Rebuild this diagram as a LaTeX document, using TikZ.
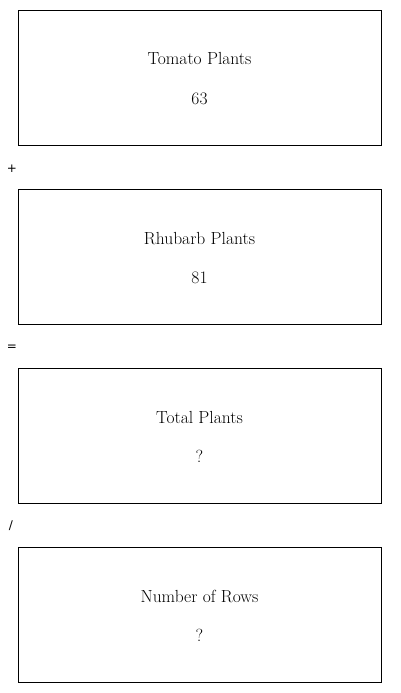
\documentclass[tikz,border=0pt]{standalone}
\usepackage{fontspec}
\newfontfamily\opfont{DejaVu Sans}
\usetikzlibrary{positioning}
\tikzset{
  qbox/.style={draw=black,line width=0.8pt,minimum width=363pt,minimum height=135pt,inner sep=0pt},
  qlbl/.style={font=\fontsize{17.5}{20}\selectfont,inner sep=0pt,anchor=base},
  qop/.style={font=\opfont\fontsize{12}{13}\selectfont,inner sep=0pt},
}
\newcommand{\qcell}[4]{\node[qbox] (#1) at (#2) {};
  \node[qlbl] at ([yshift=12.5pt]#1.center) {#3};
  \node[qlbl] at ([yshift=-26.5pt]#1.center) {#4};}

\begin{document}
\begin{tikzpicture}[x=1pt,y=-1pt]
  \useasboundingbox (0,0) rectangle (400,693);
  \qcell{tom}{199.5,77.5}{Tomato Plants}{63}
  \qcell{rhu}{199.5,256.5}{Rhubarb Plants}{81}
  \qcell{tot}{199.5,435.5}{Total Plants}{?}
  \qcell{row}{199.5,614.5}{Number of Rows}{?}
  \node[qop] (plus) at (12,169) {+};
  \node[qop] (eq) at (12,348) {=};
  \node[qop] (div) at (11,526) {/};
\end{tikzpicture}
\end{document}
